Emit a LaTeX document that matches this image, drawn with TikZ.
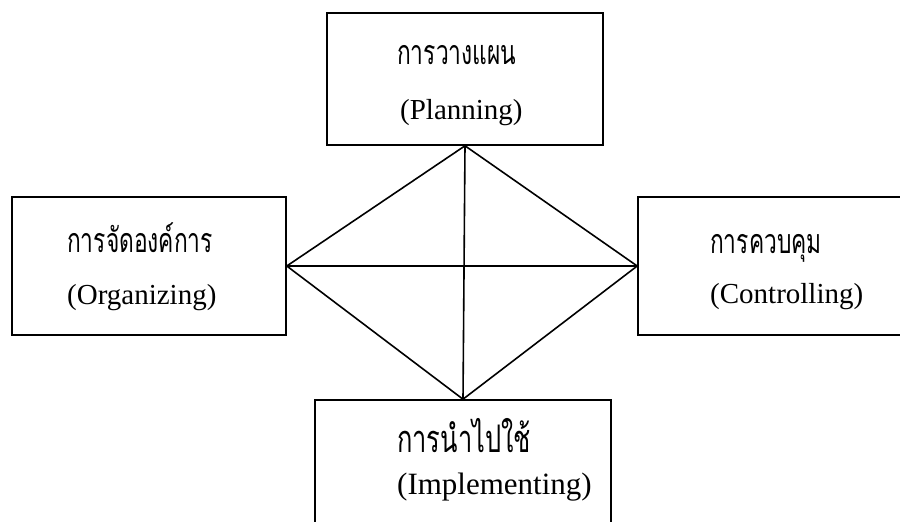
\documentclass[tikz,border=0pt]{standalone}
\usepackage{fontspec}
\setmainfont{Liberation Serif}
\newfontfamily\thaifont[Script=Thai, FakeStretch=0.67]{Loma}
\begin{document}
\begin{tikzpicture}[x=1pt,y=-1pt,
  box/.style={draw, line width=1.6pt, inner sep=0pt},
  th/.style={font=\thaifont\fontsize{34}{40}\selectfont, anchor=base west, inner sep=0pt},
  thbig/.style={th, font=\thaifont\fontsize{38}{44}\selectfont},
  en/.style={font=\fontsize{29}{34}\selectfont, anchor=base west, inner sep=0pt},
  enbig/.style={en, font=\fontsize{31}{36}\selectfont},
  link/.style={line width=1.6pt}]
\useasboundingbox (0,0) rectangle (900,522);
\clip (0,0) rectangle (900,522);
\fill[white] (0,0) rectangle (900,522);

% the four management functions
\node[box, minimum width=276pt, minimum height=132pt] (plan) at (465,79) {};
\node[box, minimum width=274pt, minimum height=138pt] (org)  at (149,266) {};
\node[box, minimum width=282pt, minimum height=138pt] (ctrl) at (779,266) {};
\node[box, minimum width=296pt, minimum height=140pt] (impl) at (463,470) {};

% labels
\node[th] (planTh) at (397,64)  {การวางแผน};
\node[en] (planEn) at (400,119) {(Planning)};
\node[th] (orgTh)  at (67,252)  {การจัดองค์การ};
\node[en] (orgEn)  at (67,304)  {(Organizing)};
\node[th] (ctrlTh) at (710,253) {การควบคุม};
\node[en] (ctrlEn) at (710,303) {(Controlling)};
\node[thbig] (implTh) at (397,452) {การนำไปใช้};
\node[enbig] (implEn) at (397,494) {(Implementing)};

% diamond joining the boxes, with its two diagonals
\draw[link] (plan.south) -- (org.east) -- (impl.north) -- (ctrl.west) -- cycle;
\draw[link] (org.east) -- (ctrl.west);
\draw[link] (plan.south) -- (impl.north);
\end{tikzpicture}
\end{document}
